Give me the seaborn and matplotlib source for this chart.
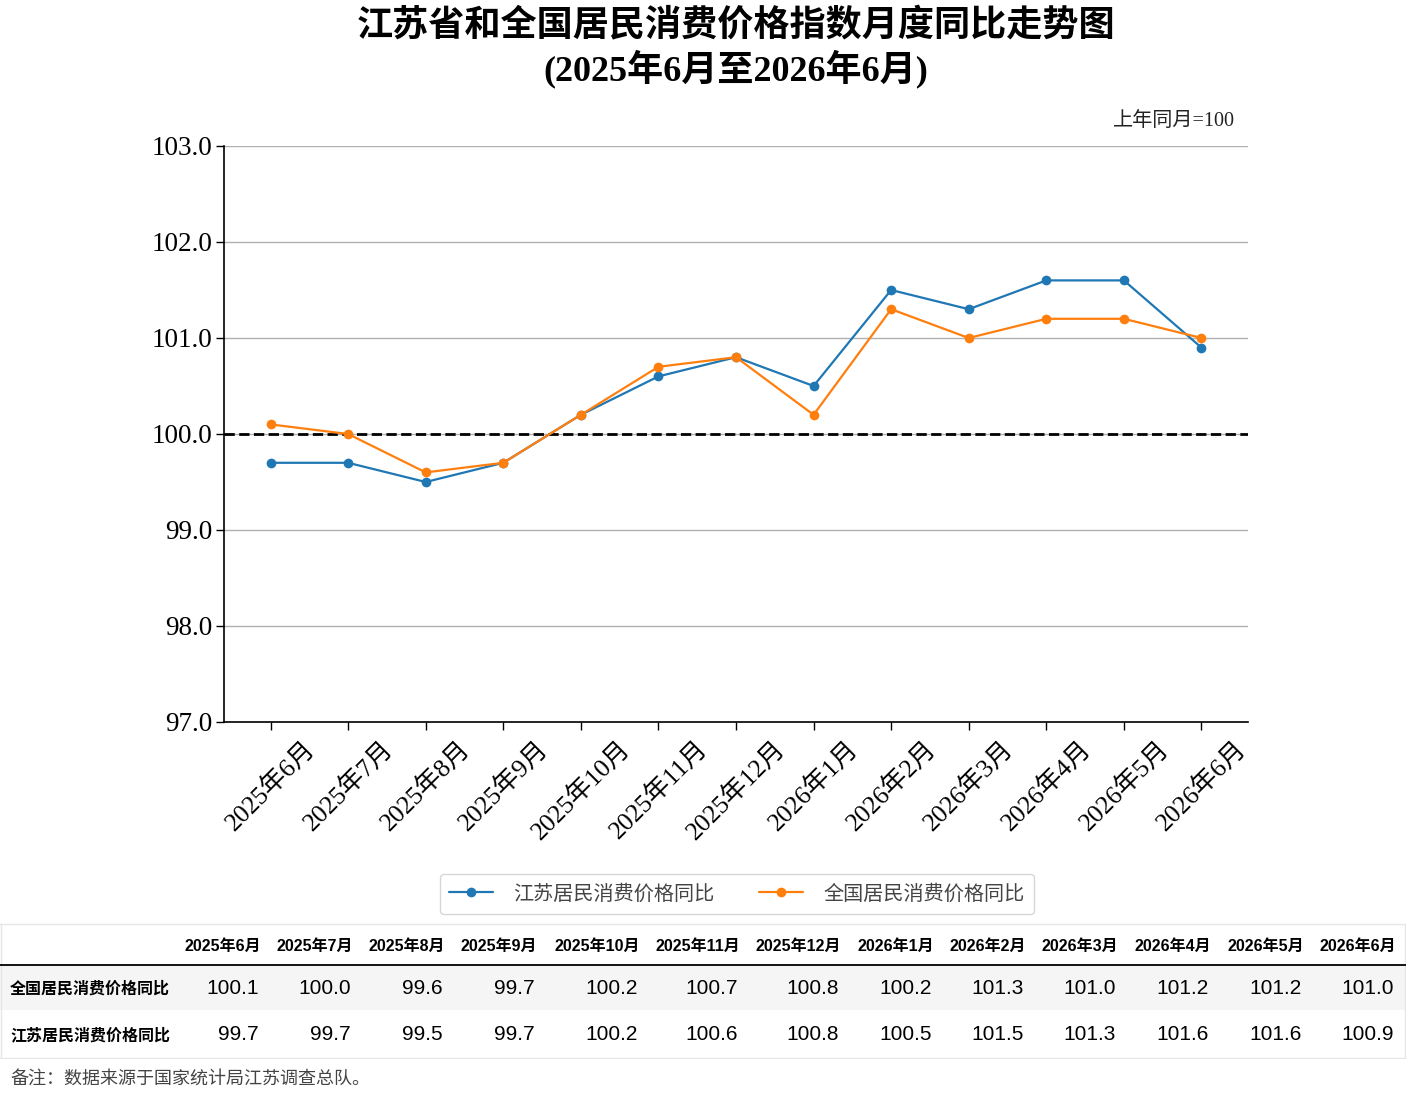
import numpy as np
import pandas as pd
import matplotlib
matplotlib.use('Agg')
import matplotlib.pyplot as plt
import seaborn as sns
from matplotlib.patches import Rectangle
from matplotlib.font_manager import FontProperties

# ---------------- data ----------------
months = ['2025年6月', '2025年7月', '2025年8月', '2025年9月', '2025年10月', '2025年11月',
          '2025年12月', '2026年1月', '2026年2月', '2026年3月', '2026年4月', '2026年5月', '2026年6月']
jiangsu = [99.7, 99.7, 99.5, 99.7, 100.2, 100.6, 100.8, 100.5, 101.5, 101.3, 101.6, 101.6, 100.9]
national = [100.1, 100.0, 99.6, 99.7, 100.2, 100.7, 100.8, 100.2, 101.3, 101.0, 101.2, 101.2, 101.0]
series_names = ['江苏居民消费价格同比', '全国居民消费价格同比']
y_ticks = [97.0, 98.0, 99.0, 100.0, 101.0, 102.0, 103.0]
baseline = 100.0
title_line1 = '江苏省和全国居民消费价格指数月度同比走势图'
title_line2 = '(2025年6月至2026年6月)'
unit_note = '上年同月=100'
footnote = '备注：数据来源于国家统计局江苏调查总队。'

# ---------------- style ----------------
sns.set_theme(style='ticks')
SERIF = ['Liberation Serif', 'Noto Sans CJK SC', 'DejaVu Sans']
SANS = ['Liberation Sans', 'Noto Sans CJK SC', 'DejaVu Sans']
CJK = ['Noto Sans CJK SC', 'DejaVu Sans']
plt.rcParams['font.family'] = SERIF
plt.rcParams['axes.unicode_minus'] = False
plt.rcParams['text.color'] = 'black'

W, H = 1406, 1109
fig = plt.figure(figsize=(W / 100, H / 100), dpi=100)
fig.patch.set_facecolor('white')

AX_L, AX_R, AX_T, AX_B = 224, 1248, 146, 722
ax = fig.add_axes([AX_L / W, (H - AX_B) / H, (AX_R - AX_L) / W, (AX_B - AX_T) / H])
df = pd.DataFrame({'pos': np.arange(len(months)), 'js': jiangsu, 'cn': national})

BLUE, ORANGE = '#1f77b4', '#ff7f0e'
sns.lineplot(data=df, x='pos', y='js', ax=ax, color=BLUE, marker='o', markersize=7,
             markeredgecolor=BLUE, markeredgewidth=0, linewidth=1.6,
             label=series_names[0], zorder=3)
sns.lineplot(data=df, x='pos', y='cn', ax=ax, color=ORANGE, marker='o', markersize=7,
             markeredgecolor=ORANGE, markeredgewidth=0, linewidth=1.6,
             label=series_names[1], zorder=4)
ax.axhline(baseline, color='black', linestyle='--', linewidth=2, zorder=2)

ax.set_xlim(-0.6, len(months) - 0.4)
ax.set_ylim(y_ticks[0], y_ticks[-1])
ax.set_yticks(y_ticks)
ax.set_yticklabels([f'{v:.1f}' for v in y_ticks], fontsize=19.5, family=SERIF)
ax.set_xticks(df['pos'])
ax.set_xticklabels(months, rotation=45, fontsize=18.5, family=SERIF)
ax.set_xlabel('')
ax.set_ylabel('')
ax.yaxis.grid(True, color='#b0b0b0', linewidth=1)
ax.xaxis.grid(False)
ax.set_axisbelow(True)
for s in ['top', 'right']:
    ax.spines[s].set_visible(False)
for s in ['left', 'bottom']:
    ax.spines[s].set_color('black')
    ax.spines[s].set_linewidth(1.2)
ax.tick_params(direction='out', length=6, width=1, color='black', labelcolor='black')
ax.tick_params(axis='y', pad=2.5)
ax.tick_params(axis='x', pad=4)

# legend
handles, labels = ax.get_legend_handles_labels()
ax.get_legend().remove()
leg = fig.legend(handles, labels, loc='center', bbox_to_anchor=(737 / W, 1 - 894 / H),
                 ncol=2, frameon=True, fancybox=True, edgecolor='#cccccc',
                 prop=FontProperties(family=CJK, size=14.5, weight='light'),
                 handlelength=2.2, columnspacing=2.2, handletextpad=1.0, borderpad=0.45)
for t in leg.get_texts():
    t.set_color('#444444')

# titles & notes (centred over the plotting area)
cx = (AX_L + AX_R) / 2 / W
fig.text(cx, 1 - 27 / H, title_line1, ha='center', va='center', fontsize=26,
         fontweight='bold', family=SERIF, color='black')
fig.text(cx, 1 - 69 / H, title_line2, ha='center', va='center', fontsize=26,
         fontweight='bold', family=SERIF, color='black')
fig.text(1235 / W, 1 - 121 / H, unit_note, ha='right', va='center', fontsize=14.5,
         family=SERIF, weight='light', color='#222222')

# ---------------- table ----------------
tab = fig.add_axes([0, (H - 1059) / H, 1, (1059 - 922) / H])
tab.set_xlim(0, W)
tab.set_ylim(1059, 922)
tab.axis('off')

col_widths = [92, 92, 92, 92, 103, 100, 101, 93, 92, 92, 93, 93, 92]
col_right = 261 + np.concatenate([[0], np.cumsum(col_widths[1:])])
row_y = {'head': 946, 'r1': 989, 'r2': 1035}

tab.add_patch(Rectangle((0, 965), W, 45, facecolor='#f5f5f5', edgecolor='none', zorder=0))
tab.plot([0, W], [923.5, 923.5], color='#e6e6e6', lw=1)
tab.plot([0, W], [1057.5, 1057.5], color='#e6e6e6', lw=1)
tab.plot([0.5, 0.5], [923.5, 1057.5], color='#e6e6e6', lw=1)
tab.plot([W - 1, W - 1], [923.5, 1057.5], color='#e6e6e6', lw=1)
tab.plot([0, W], [965, 965], color='black', lw=1.3)

for xr, m in zip(col_right, months):
    tab.text(xr, row_y['head'], m, ha='right', va='center', fontsize=11.5,
             fontweight='bold', family=SANS, color='black')
rows = [(series_names[1], national, row_y['r1']), (series_names[0], jiangsu, row_y['r2'])]
for name, vals, yy in rows:
    tab.text(10, yy, name, ha='left', va='center', fontsize=11.5, fontweight='bold',
             family=CJK, color='black')
    for xr, v in zip(col_right, vals):
        tab.text(xr - 2, yy, f'{v:.1f}', ha='right', va='center', fontsize=15,
                 family=SANS, color='black')

fig.text(10 / W, 1 - 1079 / H, footnote, ha='left', va='center', fontsize=13,
         family=CJK, weight='light', color='#444444')

fig.savefig('out.png', dpi=100)
